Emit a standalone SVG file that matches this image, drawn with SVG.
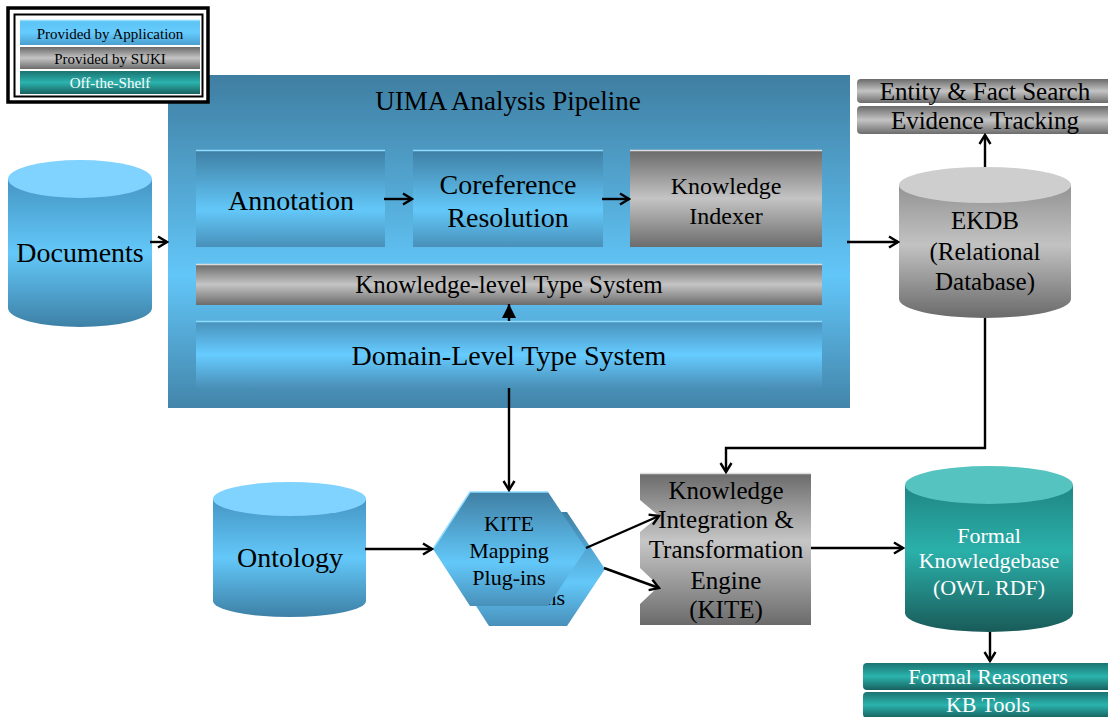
<svg xmlns="http://www.w3.org/2000/svg" width="1108" height="717" viewBox="0 0 1108 717">
<defs>
<linearGradient id="gPanel" x1="0" y1="0" x2="0" y2="1">
<stop offset="0" stop-color="#3f7ea1"/><stop offset="0.6" stop-color="#62c6f8"/><stop offset="1" stop-color="#4385aa"/>
</linearGradient>
<linearGradient id="gBlue" x1="0" y1="0" x2="0" y2="1">
<stop offset="0" stop-color="#3f7fa4"/><stop offset="0.62" stop-color="#63c8f9"/><stop offset="1" stop-color="#4890ba"/>
</linearGradient>
<linearGradient id="gBlueDom" x1="0" y1="0" x2="0" y2="1">
<stop offset="0" stop-color="#4890ba"/><stop offset="0.5" stop-color="#66ccff"/><stop offset="1" stop-color="#4a8fb8"/>
</linearGradient>
<linearGradient id="gGray" x1="0" y1="0" x2="0" y2="1">
<stop offset="0" stop-color="#6a6a6a"/><stop offset="0.5" stop-color="#c4c4c4"/><stop offset="1" stop-color="#6c6c6c"/>
</linearGradient>
<linearGradient id="gTeal" x1="0" y1="0" x2="0" y2="1">
<stop offset="0" stop-color="#1b7371"/><stop offset="0.5" stop-color="#2bb3ad"/><stop offset="1" stop-color="#17605e"/>
</linearGradient>
<linearGradient id="gLegBlue" x1="0" y1="0" x2="0" y2="1">
<stop offset="0" stop-color="#5cc2f2"/><stop offset="0.5" stop-color="#66ccff"/><stop offset="1" stop-color="#4a9fcf"/>
</linearGradient>
<linearGradient id="gCylBlue" x1="0" y1="0" x2="0" y2="1">
<stop offset="0" stop-color="#4596c4"/><stop offset="0.5" stop-color="#63c8f9"/><stop offset="1" stop-color="#3d80a6"/>
</linearGradient>
<linearGradient id="gCylGray" x1="0" y1="0" x2="0" y2="1">
<stop offset="0" stop-color="#939393"/><stop offset="0.45" stop-color="#c2c2c2"/><stop offset="1" stop-color="#6a6a6a"/>
</linearGradient>
<linearGradient id="gCylTeal" x1="0" y1="0" x2="0" y2="1">
<stop offset="0" stop-color="#1f8683"/><stop offset="0.45" stop-color="#2bb0aa"/><stop offset="1" stop-color="#195b59"/>
</linearGradient>
<linearGradient id="gKite" x1="0" y1="0" x2="0" y2="1">
<stop offset="0" stop-color="#6a6a6a"/><stop offset="0.45" stop-color="#c6c6c6"/><stop offset="1" stop-color="#6b6b6b"/>
</linearGradient>
<marker id="arr" markerUnits="userSpaceOnUse" markerWidth="14" markerHeight="14" viewBox="0 0 14 14" refX="12" refY="7" orient="auto">
<path d="M3,1.5 L12,7 L3,12.5" fill="none" stroke="#000" stroke-width="2.4"/>
</marker>
<marker id="tri" markerUnits="userSpaceOnUse" markerWidth="16" markerHeight="16" viewBox="0 0 16 16" refX="15" refY="8" orient="auto">
<path d="M1,1 L15,8 L1,15 Z" fill="#000"/>
</marker>
</defs>
<style>
text{font-family:"Liberation Serif","Times New Roman",serif;text-anchor:middle;fill:#000}
.w{fill:#fff}
.c{stroke:#000;stroke-width:2.4;fill:none}
.hl{stroke:#8fdcff;stroke-width:1.5}
.hg{stroke:#dddddd;stroke-width:1.5}
</style>

<g id="uima-panel">
<rect x="168" y="75" width="682" height="333" fill="url(#gPanel)"/>
<text x="508" y="110" font-size="27">UIMA Analysis Pipeline</text>
</g>

<g id="legend">
<rect x="8" y="8" width="200" height="94" fill="#fff" stroke="#000" stroke-width="3.5"/>
<rect x="14.5" y="14.5" width="188" height="82" fill="none" stroke="#000" stroke-width="2"/>
<rect x="20" y="20" width="180" height="25" fill="url(#gLegBlue)"/>
<line x1="20" y1="20.5" x2="200" y2="20.5" class="hl"/>
<text x="110" y="39" font-size="15">Provided by Application</text>
<rect x="20" y="47" width="180" height="22" fill="url(#gGray)"/>
<text x="110" y="64" font-size="15">Provided by SUKI</text>
<rect x="20" y="71" width="180" height="23" fill="url(#gTeal)"/>
<text x="110" y="88" font-size="15" class="w">Off-the-Shelf</text>
</g>

<g id="annotation">
<rect x="196" y="150" width="189" height="97" fill="url(#gBlue)"/>
<line x1="196" y1="150.5" x2="385" y2="150.5" class="hl"/>
<text x="291" y="210" font-size="28">Annotation</text>
</g>

<g id="coreference">
<rect x="413" y="150" width="190" height="97" fill="url(#gBlue)"/>
<line x1="413" y1="150.5" x2="603" y2="150.5" class="hl"/>
<text x="508" y="194" font-size="28">Coreference</text>
<text x="508" y="227" font-size="28">Resolution</text>
</g>

<g id="knowledge-indexer">
<rect x="630" y="150" width="192" height="97" fill="url(#gGray)"/>
<line x1="630" y1="150.5" x2="822" y2="150.5" class="hg"/>
<text x="726" y="194" font-size="24">Knowledge</text>
<text x="726" y="224" font-size="24">Indexer</text>
</g>

<g id="knowledge-type-system">
<rect x="196" y="264" width="626" height="41" fill="url(#gGray)"/>
<line x1="196" y1="264.5" x2="822" y2="264.5" class="hg"/>
<text x="509" y="293" font-size="25">Knowledge-level Type System</text>
</g>

<g id="domain-type-system">
<rect x="196" y="321" width="626" height="67" fill="url(#gBlueDom)"/>
<line x1="196" y1="321.5" x2="822" y2="321.5" class="hl"/>
<text x="509" y="365" font-size="28">Domain-Level Type System</text>
</g>

<g id="documents">
<path d="M8,179 L8,308 A72,19 0 0 0 152,308 L152,179 Z" fill="url(#gCylBlue)"/>
<ellipse cx="80" cy="179" rx="72" ry="19" fill="#80d2ff"/>
<text x="80" y="262" font-size="28">Documents</text>
</g>

<g id="ekdb">
<path d="M899,185 L899,299 A86,19 0 0 0 1071,299 L1071,185 Z" fill="url(#gCylGray)"/>
<ellipse cx="985" cy="185" rx="86" ry="18" fill="#cecece"/>
<text x="985" y="229" font-size="25">EKDB</text>
<text x="985" y="260" font-size="25">(Relational</text>
<text x="985" y="290" font-size="25">Database)</text>
</g>

<g id="entity-search">
<rect x="857" y="79" width="255" height="24" rx="4" fill="url(#gGray)"/>
<text x="985" y="100" font-size="25">Entity &amp; Fact Search</text>
</g>
<g id="evidence-tracking">
<rect x="857" y="106" width="255" height="28" rx="4" fill="url(#gGray)"/>
<text x="985" y="129" font-size="25">Evidence Tracking</text>
</g>

<g id="ontology">
<path d="M213,499 L213,601 A76.5,16 0 0 0 366,601 L366,499 Z" fill="url(#gCylBlue)"/>
<ellipse cx="289.5" cy="499" rx="76.5" ry="17" fill="#80d2ff"/>
<text x="290" y="567" font-size="28">Ontology</text>
</g>

<g id="kite-mapping-plugins">
<polygon points="452,569 489,512 567,512 605,569 567,626 489,626" fill="url(#gBlue)"/>
<text x="565" y="605" font-size="22" style="text-anchor:end">ns</text>
<polygon points="433,549 470,492 548,492 586,549 548,606 470,606" fill="url(#gBlue)"/>
<polyline points="433,549 470,492 548,492" fill="none" stroke="#8fdcff" stroke-width="1.5"/>
<text x="509" y="531" font-size="22">KITE</text>
<text x="509" y="558" font-size="22">Mapping</text>
<text x="509" y="585" font-size="22">Plug-ins</text>
</g>

<g id="kite-engine">
<path d="M640,473 L811,473 L811,625 L640,625 L640,604 L659,586 L640,568 L640,532 L659,516 L640,500 Z" fill="url(#gKite)"/>
<line x1="640" y1="473.5" x2="811" y2="473.5" class="hg"/>
<text x="726" y="499" font-size="25">Knowledge</text>
<text x="726" y="528" font-size="25">Integration &amp;</text>
<text x="726" y="558" font-size="25">Transformation</text>
<text x="726" y="589" font-size="25">Engine</text>
<text x="726" y="618" font-size="25">(KITE)</text>
</g>

<g id="formal-kb">
<path d="M905,485 L905,613 A84,19 0 0 0 1073,613 L1073,485 Z" fill="url(#gCylTeal)"/>
<ellipse cx="989" cy="485" rx="84" ry="19" fill="#55c3bf"/>
<text x="989" y="543" font-size="22" class="w">Formal</text>
<text x="989" y="568" font-size="22" class="w">Knowledgebase</text>
<text x="989" y="595" font-size="22" class="w">(OWL RDF)</text>
</g>

<g id="formal-reasoners">
<rect x="863" y="663" width="249" height="27" rx="4" fill="url(#gTeal)"/>
<text x="988" y="684" font-size="22" class="w">Formal Reasoners</text>
</g>
<g id="kb-tools">
<rect x="863" y="692" width="249" height="26" rx="4" fill="url(#gTeal)"/>
<text x="988" y="712" font-size="22" class="w">KB Tools</text>
</g>

<g id="connectors">
<line x1="150" y1="242" x2="167" y2="242" class="c" marker-end="url(#arr)"/>
<line x1="384" y1="199" x2="412" y2="199" class="c" marker-end="url(#arr)"/>
<line x1="602" y1="199" x2="629" y2="199" class="c" marker-end="url(#arr)"/>
<line x1="509" y1="321" x2="509" y2="304" stroke="#000" stroke-width="2.4" marker-end="url(#tri)"/>
<line x1="509" y1="388" x2="509" y2="490" class="c" marker-end="url(#arr)"/>
<line x1="847" y1="242" x2="898" y2="242" class="c" marker-end="url(#arr)"/>
<line x1="985" y1="167" x2="985" y2="135" class="c" marker-end="url(#arr)"/>
<polyline points="985,318 985,448 726,448 726,472" class="c" marker-end="url(#arr)"/>
<line x1="365" y1="549" x2="432" y2="549" class="c" marker-end="url(#arr)"/>
<line x1="586" y1="548" x2="659" y2="516" class="c" marker-end="url(#arr)"/>
<line x1="604" y1="568" x2="659" y2="588" class="c" marker-end="url(#arr)"/>
<line x1="811" y1="548" x2="903" y2="548" class="c" marker-end="url(#arr)"/>
<line x1="990" y1="632" x2="990" y2="661" class="c" marker-end="url(#arr)"/>
</g>
</svg>
